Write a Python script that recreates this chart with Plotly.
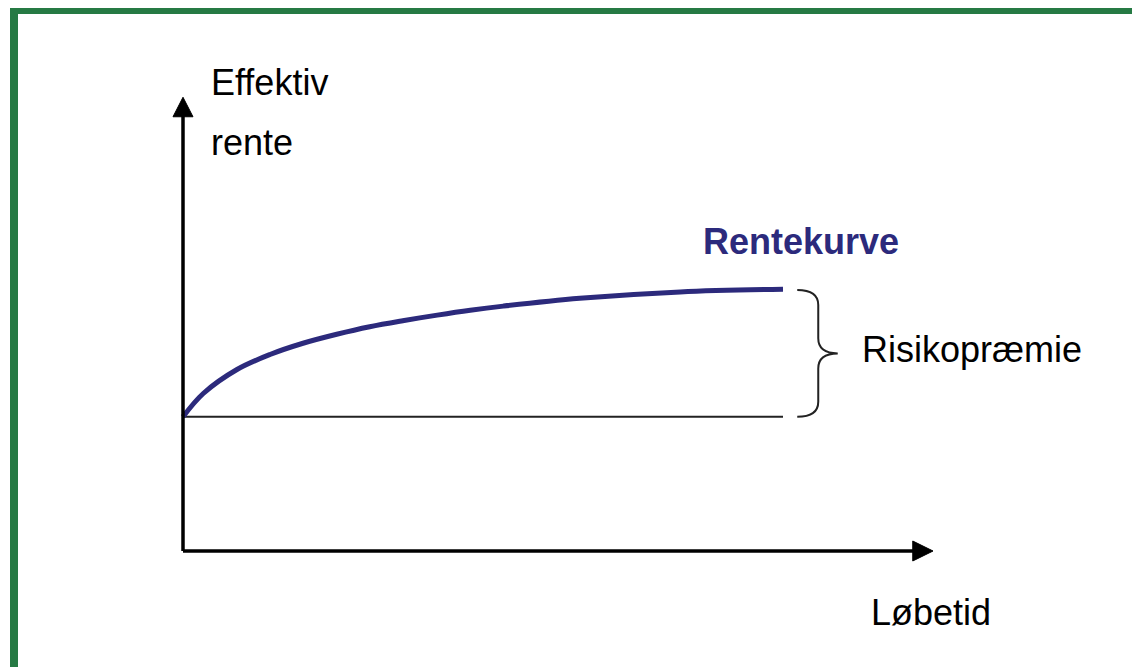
import plotly.graph_objects as go

# ---- data (schematic yield curve) ----
maturity = [0.0, 0.27, 0.72, 1.16, 1.6, 2.05, 2.49, 2.93, 3.39, 3.83, 4.27, 5.29, 6.63, 8.0]
rate = [1.79, 2.10, 2.42, 2.62, 2.77, 2.89, 2.99, 3.07, 3.145, 3.21, 3.265, 3.37, 3.455, 3.49]
riskfree = rate[0]
y_label = ["Effektiv", "rente"]
x_label = "Løbetid"
curve_label = "Rentekurve"
premium_label = "Risikopræmie"

# page body has an 8px margin; figure is sized so it fits the 1140x667 window
W, H = 1132, 659
L, T = 160, 78
PW, PH = 780, 480
R, B = W - L - PW, H - T - PH
XR = [-0.2, 10.2]
YR = [-0.2, 6.2]
OX, OY = 8 + L, 8 + T + PH  # screen position of plot-area lower-left

CURVE = "#2c2a7c"
GREEN = "#267a44"
FONT = "Liberation Sans, Arial, sans-serif"

fig = go.Figure()
fig.add_trace(go.Scatter(x=maturity, y=rate, mode="lines",
                         line=dict(color=CURVE, width=5, shape="spline", smoothing=1.0),
                         hoverinfo="skip", showlegend=False))

shapes = []
shapes.append(dict(type="line", xref="x", yref="y", x0=0, x1=maturity[-1], y0=riskfree, y1=riskfree,
                   line=dict(color="#222222", width=2), layer="below"))
shapes.append(dict(type="line", xref="x", yref="y", x0=0, x1=9.75, y0=0, y1=0, line=dict(color="black", width=3.5)))
shapes.append(dict(type="line", xref="x", yref="y", x0=0, x1=0, y0=0, y1=5.8, line=dict(color="black", width=3.5)))
shapes.append(dict(type="path", xref="x", yref="y",
                   path="M 9.73,0.133 L 10.0,0 L 9.73,-0.133 Z", fillcolor="black", line=dict(color="black", width=1)))
shapes.append(dict(type="path", xref="x", yref="y",
                   path="M -0.133,5.79 L 0,6.05 L 0.133,5.79 Z", fillcolor="black", line=dict(color="black", width=1)))
top = rate[-1] - 0.01
bot = riskfree
mid = (top + bot) / 2
x0 = maturity[-1] + 0.19
xm = x0 + 0.28
xt = x0 + 0.54
c = 0.2
brace = (f"M {x0},{top} Q {xm},{top} {xm},{top - c} L {xm},{mid + c} "
         f"Q {xm},{mid} {xt},{mid} Q {xm},{mid} {xm},{mid - c} L {xm},{bot + c} "
         f"Q {xm},{bot} {x0},{bot}")
shapes.append(dict(type="path", xref="x", yref="y", path=brace, line=dict(color="#222222", width=2)))
# green frame (screen pixel positions -> paper coords)
shapes.append(dict(type="rect", xref="paper", yref="paper",
                   x0=(14 - OX) / PW, x1=(1146 - OX) / PW, y0=(OY - 671) / PH, y1=(OY - 10) / PH,
                   line=dict(color=GREEN, width=8), fillcolor="rgba(0,0,0,0)"))

ann = []
def txt(x, y, s, color="black", bold=False):
    # data units -> paper coords so labels outside the axis range still show
    xp = (x - XR[0]) / (XR[1] - XR[0])
    yp = (y - YR[0]) / (YR[1] - YR[0])
    ann.append(dict(x=xp, y=yp, xref="paper", yref="paper", text=f"<b>{s}</b>" if bold else s,
                    showarrow=False, xanchor="left", yanchor="middle",
                    font=dict(family=FONT, size=36, color=color)))

txt(0.34, 6.25, y_label[0])
txt(0.34, 5.45, y_label[1])
txt(6.91, 4.13, curve_label, CURVE, True)
txt(9.03, 2.69, premium_label)
txt(9.14, -0.82, x_label)

fig.update_layout(
    width=W, height=H, margin=dict(l=L, r=R, t=T, b=B),
    paper_bgcolor="white", plot_bgcolor="white",
    xaxis=dict(range=XR, visible=False, fixedrange=True),
    yaxis=dict(range=YR, visible=False, fixedrange=True),
    shapes=shapes, annotations=ann, showlegend=False,
)
fig.write_html("out.html")
